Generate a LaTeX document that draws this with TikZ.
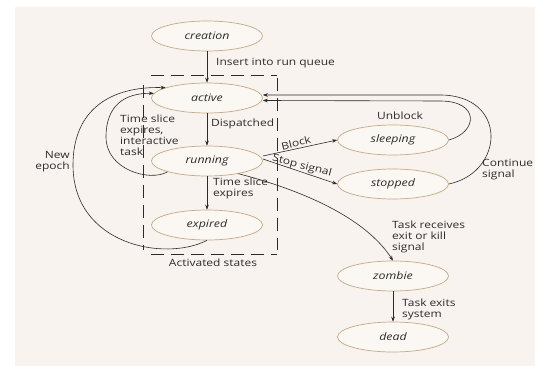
\documentclass[tikz,border=0pt]{standalone}
\usepackage{fontspec}
\setmainfont{Open Sans}[FakeStretch=1.2]
\usetikzlibrary{arrows.meta,shapes.geometric}

\definecolor{panel}{HTML}{F8F3EE}
\definecolor{stateedge}{HTML}{C6A987}
\definecolor{statefill}{HTML}{FBF8F4}
\definecolor{ink}{HTML}{2B2B2B}

\newcommand{\lblfont}{\fontsize{10}{11}\selectfont}
\newcommand{\stfont}{\fontsize{10.3}{11.5}\selectfont\itshape}

\begin{document}
\begin{tikzpicture}[x=1pt,y=-1pt,
  state/.style={ellipse, draw=stateedge, fill=statefill, line width=0.7pt,
    minimum width=111pt, minimum height=30pt, inner sep=0pt,
    text=ink, font=\stfont},
  lbl/.style={text=ink, font=\lblfont, inner sep=0pt, align=left},
  flow/.style={draw=ink, line width=0.6pt, -{Stealth[length=5pt,width=3.6pt]}},
  groupline/.style={draw=ink, line width=0.7pt, dash pattern=on 13pt off 7pt}]

\useasboundingbox (0,0) rectangle (535,366);
\fill[white] (0,0) rectangle (535,366);
\fill[panel] (15,7) rectangle (535,366);

% states
\node[state] (creation) at (207,36)  {creation};
\node[state] (active)   at (207,98)  {active};
\node[state] (running)  at (207,161) {running};
\node[state] (expired)  at (207,225) {expired};
\node[state] (sleeping) at (393,140) {sleeping};
\node[state] (stopped)  at (393,184) {stopped};
\node[state] (zombie)   at (393,276) {zombie};
\node[state] (dead)     at (393,337) {dead};

% dashed frame around the activated states
\coordinate (tl) at (143,75);
\coordinate (tr) at (277,75);
\coordinate (bl) at (143,254);
\coordinate (br) at (277,254);
\draw[groupline] ([xshift=8pt]tl) -- (tr);
\draw[groupline] ([xshift=8pt]bl) -- (br);
\draw[groupline] ([yshift=-10pt]tl) -- ([yshift=4pt]bl);
\draw[groupline] ([yshift=-3pt]tr) -- ([yshift=4pt]br);
\node[lbl] (actlabel) at (213,263) {Activated states};

% transitions inside the frame
\draw[flow] (creation) -- (active);
\draw[flow] (active) -- (running);
\draw[flow] (running) -- (expired);

% loops back to active on the left
\coordinate (innerleft) at (106,137);
\coordinate (outerleft) at (73,165);
\draw[flow] (running.south west) .. controls (150,182) and (106,170) .. (innerleft)
  .. controls (106,105) and (125,93) .. (active.175);
\draw[flow] (expired.south) .. controls (165,262) and (73,245) .. (outerleft)
  .. controls (73,110) and (110,86) .. (active.166);

% transitions to the right
\draw[flow] ([yshift=5pt]running.east) -- (sleeping.west);
\draw[flow] ([yshift=2pt]running.east) -- (stopped.west);
\draw[flow] (running.-22) .. controls (320,195) and (370,225) .. (zombie.north);
\draw[flow] (zombie) -- (dead);

% returns to active on the right
\draw[flow] (sleeping.east) .. controls (478,132) and (480,101) .. (440,101) -- ([yshift=-2.5pt]active.east);
\draw[flow] (stopped.east) .. controls (505,172) and (508,95) .. (440,95) -- ([yshift=3pt]active.east);

% labels
\node[lbl, anchor=west] (l1) at (216,63) {Insert into run queue};
\node[lbl, anchor=west] (l2) at (211,124) {Dispatched};
\node[lbl, anchor=north west] (l3) at (120,115) {Time slice\\expires,\\interactive\\task};
\node[lbl, anchor=north west] (l4) at (213,178) {Time slice\\expires};
\node[lbl, rotate=14] (l5) at (296,143) {Block};
\node[lbl, rotate=-15] (l6) at (302,166) {Stop signal};
\node[lbl] (l7) at (400,116) {Unblock};
\node[lbl, anchor=north west] (l8) at (482,159) {Continue\\signal};
\node[lbl, anchor=north east, align=right] (l9) at (70,151) {New\\epoch};
\node[lbl, anchor=north west] (l10) at (392,221) {Task receives\\exit or kill\\signal};
\node[lbl, anchor=north west] (l11) at (402,299) {Task exits\\system};
\end{tikzpicture}
\end{document}
